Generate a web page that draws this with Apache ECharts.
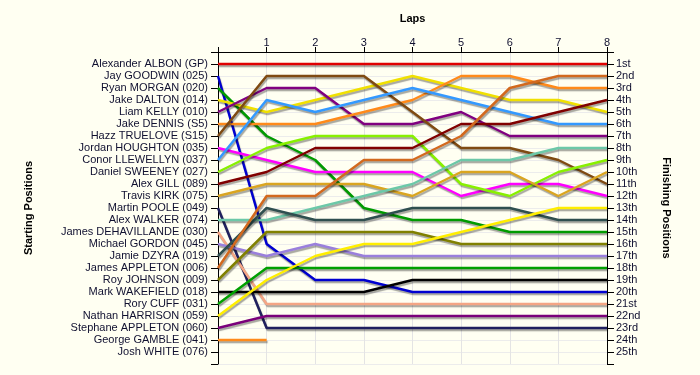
<!DOCTYPE html>
<html>
<head>
<meta charset="utf-8">
<script src="https://cdn.jsdelivr.net/npm/echarts@6/dist/echarts.min.js"></script>
<style>html,body{margin:0;padding:0;background:#fffff2;}#c{width:700px;height:375px;}</style>
</head>
<body>
<div id="c"></div>
<script>
const laps = [0,1,2,3,4,5,6,7,8];
const lapLabels = ['', '1','2','3','4','5','6','7','8'];
const drivers = [
  'Alexander ALBON (GP)','Jay GOODWIN (025)','Ryan MORGAN (020)','Jake DALTON (014)',
  'Liam KELLY (010)','Jake DENNIS (S5)','Hazz TRUELOVE (S15)','Jordan HOUGHTON (035)',
  'Conor LLEWELLYN (037)','Daniel SWEENEY (027)','Alex GILL (089)','Travis KIRK (075)',
  'Martin POOLE (049)','Alex WALKER (074)','James DEHAVILLANDE (030)','Michael GORDON (045)',
  'Jamie DZYRA (019)','James APPLETON (006)','Roy JOHNSON (009)','Mark WAKEFIELD (018)',
  'Rory CUFF (031)','Nathan HARRISON (059)','Stephane APPLETON (060)','George GAMBLE (041)',
  'Josh WHITE (076)'
];
const finishLabels = ['1st','2nd','3rd','4th','5th','6th','7th','8th','9th','10th','11th','12th','13th',
  '14th','15th','16th','17th','18th','19th','20th','21st','22nd','23rd','24th','25th'];
// positions per lap (lap 0 = starting position)
const albon      = [1,1,1,1,1,1,1,1,1];
const goodwin    = [2,16,19,19,20,20,20,20,20];
const morgan     = [3,7,9,13,14,14,15,15,15];
const dalton     = [4,5,4,3,2,3,4,4,5];
const kelly      = [5,3,3,6,6,5,7,7,7];
const dennis     = [6,6,6,5,4,2,2,3,3];
const truelove   = [7,2,2,2,5,8,8,9,11];
const houghton   = [8,9,10,10,10,12,11,11,12];
const llewellyn  = [9,4,5,4,3,4,5,6,6];
const sweeney    = [10,8,7,7,7,11,12,10,9];
const gill       = [11,10,8,8,8,6,6,5,4];
const kirk       = [12,11,11,11,12,10,10,12,10];
const poole      = [13,23,23,23,23,23,23,23,23];
const walker     = [14,14,13,12,11,9,9,8,8];
const dehavillande = [15,21,21,21,21,21,21,21,21];
const gordon     = [16,17,16,17,17,17,17,17,17];
const dzyra      = [17,13,14,14,13,13,13,14,14];
const jappleton  = [18,12,12,9,9,7,3,2,2];
const johnson    = [19,15,15,15,15,16,16,16,16];
const wakefield  = [20,20,20,20,19,19,19,19,19];
const cuff       = [21,18,18,18,18,18,18,18,18];
const harrison   = [22,19,17,16,16,15,14,13,13];
const sappleton  = [23,22,22,22,22,22,22,22,22];
const gamble     = [24,24];
const white      = [];

const seriesData = [albon,goodwin,morgan,dalton,kelly,dennis,truelove,houghton,llewellyn,sweeney,
  gill,kirk,poole,walker,dehavillande,gordon,dzyra,jappleton,johnson,wakefield,cuff,harrison,
  sappleton,gamble,white];
const colors = ['#e00000','#0000d0','#009a00','#f0e000','#800080','#ff8a1a','#7f4a12','#ff00ff',
  '#3399ff','#88f000','#800000','#daa520','#20205e','#6cc8a8','#f4a584','#9a7fdc','#2f4f4f',
  '#d2691e','#808000','#000000','#00a000','#ffee00','#7a007a','#ff8a1a','#888888'];

const font = 'Liberation Sans, Arial, sans-serif';
const txt = '#101030';

const series = seriesData.map((arr, i) => ({
  name: drivers[i],
  type: 'line',
  symbol: 'none',
  silent: true,
  data: arr.map((p, k) => [laps[k], p]),
  lineStyle: {
    width: 2.5,
    color: colors[i],
    shadowColor: 'rgba(0,0,0,0.35)',
    shadowOffsetX: 1,
    shadowOffsetY: 2,
    shadowBlur: 1
  },
  animation: false
}));

const chart = echarts.init(document.getElementById('c'), null, {renderer: 'canvas'});
chart.setOption({
  backgroundColor: '#fffff2',
  animation: false,
  grid: {left: 218, right: 93, top: 52, bottom: 11},
  xAxis: {
    type: 'value', position: 'top', min: 0, max: 8, interval: 1,
    name: 'Laps', nameLocation: 'middle', nameGap: 28,
    nameTextStyle: {fontFamily: font, fontSize: 11, fontWeight: 'bold', color: '#000'},
    axisLine: {show: true, onZero: false, lineStyle: {color: '#000', width: 1}},
    axisTick: {show: true, length: 5, lineStyle: {color: '#000'}},
    axisLabel: {fontFamily: font, fontSize: 11, color: txt, margin: 4,
      formatter: v => lapLabels[v] || ''},
    splitLine: {show: true, lineStyle: {color: '#e4e4e4', width: 1}}
  },
  yAxis: [
    {
      type: 'value', inverse: true, min: 0, max: 26, interval: 1, position: 'left',
      name: 'Starting Positions', nameLocation: 'middle', nameGap: 184, nameRotate: 90,
      nameTextStyle: {fontFamily: font, fontSize: 11, fontWeight: 'bold', color: '#000'},
      axisLine: {show: true, onZero: false, lineStyle: {color: '#000', width: 1}},
      axisTick: {show: true, length: 7, lineStyle: {color: '#000'}},
      axisLabel: {fontFamily: font, fontSize: 11, color: txt, margin: 10,
        formatter: v => drivers[v - 1] || ''},
      splitLine: {show: true, lineStyle: {color: '#ececec', width: 1}}
    },
    {
      type: 'value', inverse: true, min: 0, max: 26, interval: 1, position: 'right',
      name: 'Finishing Positions', nameLocation: 'middle', nameGap: 54, nameRotate: -90,
      nameTextStyle: {fontFamily: font, fontSize: 11, fontWeight: 'bold', color: '#000'},
      axisLine: {show: true, onZero: false, lineStyle: {color: '#000', width: 1}},
      axisTick: {show: true, length: 7, lineStyle: {color: '#000'}},
      axisLabel: {fontFamily: font, fontSize: 11, color: txt, margin: 9,
        formatter: v => finishLabels[v - 1] || ''},
      splitLine: {show: false}
    }
  ],
  series: series
});
</script>
</body>
</html>
